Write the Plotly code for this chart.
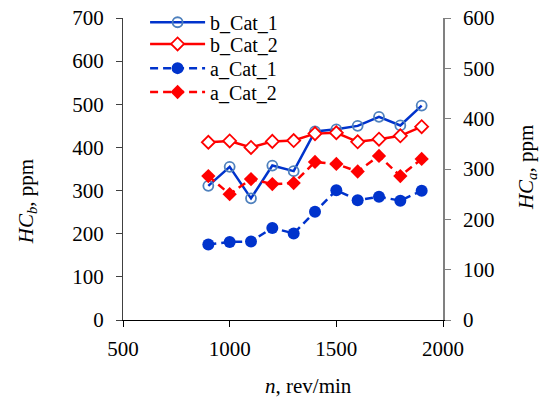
import plotly.graph_objects as go

rpm = [900, 1000, 1100, 1200, 1300, 1400, 1500, 1600, 1700, 1800, 1900]
b_cat_1 = [311, 355, 282, 358, 345, 437, 442, 450, 471, 451, 497]
b_cat_2 = [412, 415, 400, 414, 416, 432, 434, 413, 419, 427, 448]
a_cat_1 = [150, 155, 156, 183, 172, 215, 258, 238, 245, 237, 257]
a_cat_2 = [286, 250, 280, 270, 272, 314, 310, 295, 326, 286, 320]

BLUE = "#0033CC"
RED = "#FF0000"
FONT = "Liberation Serif, Times New Roman, serif"
TICKFONT = dict(family=FONT, size=21, color="black")
TITLEFONT = dict(family=FONT, size=21, color="black")
LEGFONT = dict(family=FONT, size=20, color="black")

fig = go.Figure()
fig.add_trace(go.Scatter(
    x=rpm, y=b_cat_1, name="b_Cat_1", mode="lines+markers", legend="legend",
    line=dict(color=BLUE, width=2.5),
    marker=dict(symbol="circle", size=10, color="rgba(255,255,255,0)",
                line=dict(color="#4F81BD", width=1.8)),
))
fig.add_trace(go.Scatter(
    x=rpm, y=b_cat_2, name="b_Cat_2", mode="lines+markers", legend="legend2",
    line=dict(color=RED, width=2.5),
    marker=dict(symbol="diamond", size=10, color="white",
                line=dict(color=RED, width=1.8)),
))
fig.add_trace(go.Scatter(
    x=rpm, y=a_cat_1, name="a_Cat_1", mode="lines+markers", yaxis="y2", legend="legend3",
    line=dict(color=BLUE, width=2.5, dash="8px,5px"),
    marker=dict(symbol="circle", size=12, color=BLUE),
))
fig.add_trace(go.Scatter(
    x=rpm, y=a_cat_2, name="a_Cat_2", mode="lines+markers", yaxis="y2", legend="legend4",
    line=dict(color=RED, width=2.5, dash="8px,5px"),
    marker=dict(symbol="diamond", size=11, color=RED),
))

def leg(y):
    return dict(x=0.069, y=y, xanchor="left", yanchor="middle",
                bgcolor="rgba(0,0,0,0)", font=LEGFONT, itemwidth=55)

fig.update_layout(
    width=541, height=400,
    margin=dict(l=123, r=98, t=18, b=80, autoexpand=False),
    paper_bgcolor="white", plot_bgcolor="white",
    font=dict(family=FONT, size=21, color="black"),
    showlegend=True,
    legend=leg(0.986), legend2=leg(0.914), legend3=leg(0.834), legend4=leg(0.755),
    xaxis=dict(range=[500, 2000], dtick=500, showgrid=False, zeroline=False,
               showline=True, linecolor="black", linewidth=1,
               ticks="outside", ticklen=6, tickcolor="black", tickfont=TICKFONT,
               ticklabelstandoff=4, automargin=False, ticklabeloverflow="allow"),
    yaxis=dict(range=[0, 700], dtick=100, showgrid=False, zeroline=False,
               showline=True, linecolor="#404040", linewidth=1,
               ticks="outside", ticklen=6, tickcolor="#404040", tickfont=TICKFONT,
               ticklabelstandoff=8, automargin=False, ticklabeloverflow="allow"),
    yaxis2=dict(range=[0, 600], dtick=100, overlaying="y", side="right",
                showgrid=False, zeroline=False,
                showline=True, linecolor="#808080", linewidth=1.5,
                ticks="outside", ticklen=6, tickcolor="#808080", tickfont=TICKFONT,
                ticklabelstandoff=8, automargin=False, ticklabeloverflow="allow"),
    annotations=[
        dict(text="<i>HC<sub>b</sub></i>, ppm", xref="paper", yref="paper",
             x=-0.30, y=0.39, xanchor="center", yanchor="middle",
             textangle=-90, showarrow=False, font=TITLEFONT),
        dict(text="<i>HC<sub>a</sub></i>, ppm", xref="paper", yref="paper",
             x=1.2625, y=0.503, xanchor="center", yanchor="middle",
             textangle=-90, showarrow=False, font=TITLEFONT),
        dict(text="<i>n</i>, rev/min", xref="paper", yref="paper",
             x=0.581, y=-0.2185, xanchor="center", yanchor="middle",
             showarrow=False, font=TITLEFONT),
    ],
)

# remove the default 8px page margin so the 541x400 figure fills the window
fig.write_html("out.html",
               config={"displayModeBar": False},
               post_script="document.body.style.margin='0';"
                           "document.documentElement.style.overflow='hidden';")
